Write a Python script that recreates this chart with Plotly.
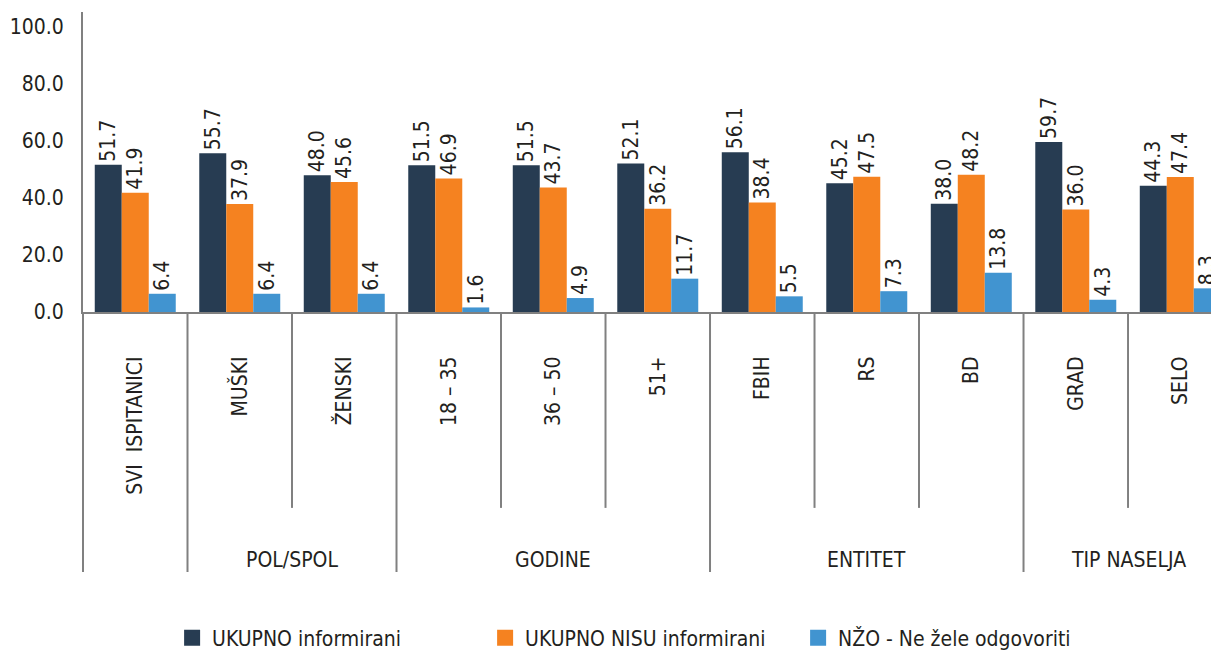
import plotly.graph_objects as go

categories = ["SVI  ISPITANICI", "MUŠKI", "ŽENSKI", "18 – 35", "36 – 50", "51+",
              "FBIH", "RS", "BD", "GRAD", "SELO"]
informirani = [51.7, 55.7, 48.0, 51.5, 51.5, 52.1, 56.1, 45.2, 38.0, 59.7, 44.3]
nisu_informirani = [41.9, 37.9, 45.6, 46.9, 43.7, 36.2, 38.4, 47.5, 48.2, 36.0, 47.4]
nzo = [6.4, 6.4, 6.4, 1.6, 4.9, 11.7, 5.5, 7.3, 13.8, 4.3, 8.3]
series_names = ["UKUPNO informirani", "UKUPNO NISU informirani", "NŽO - Ne žele odgovoriti"]
colors = ["#273c52", "#f58220", "#4194d0"]

groups = [("POL/SPOL", 1, 2), ("GODINE", 3, 5), ("ENTITET", 6, 8), ("TIP NASELJA", 9, 10)]
ytick_vals = [0, 20, 40, 60, 80, 100]

FONT = "Liberation Sans Narrow, DejaVu Sans Condensed, Roboto, sans-serif"
TXT = "#231f20"
LINE = "#808080"

fig = go.Figure()
x_idx = list(range(len(categories)))
for name, vals, col in zip(series_names, [informirani, nisu_informirani, nzo], colors):
    fig.add_trace(go.Bar(
        x=x_idx, y=vals, name=name, marker=dict(color=col, line=dict(width=0)),
        text=[f"{v:.1f}" for v in vals], textposition="outside", textangle=-90,
        textfont=dict(family=FONT, size=21, color=TXT), constraintext="none",
        cliponaxis=False, showlegend=False,
    ))
    fig.add_trace(go.Scatter(
        x=[None], y=[None], mode="markers", name=name,
        marker=dict(symbol="square", size=20, color=col),
    ))

shapes = []
shapes.append(dict(type="line", xref="paper", yref="paper", x0=0, x1=0, y0=-0.867, y1=0,
                   line=dict(color=LINE, width=2)))
major = [0.5, 2.5, 5.5, 8.5]
minor = [1.5, 3.5, 4.5, 6.5, 7.5, 9.5]
for xv in major:
    shapes.append(dict(type="line", xref="x", yref="paper", x0=xv, x1=xv, y0=-0.867, y1=0,
                       line=dict(color=LINE, width=2)))
for xv in minor:
    shapes.append(dict(type="line", xref="x", yref="paper", x0=xv, x1=xv, y0=-0.653, y1=0,
                       line=dict(color=LINE, width=2)))

annotations = []
for label, a, b in groups:
    annotations.append(dict(text=label, x=(a + b) / 2, xref="x", y=-0.827, yref="paper",
                            showarrow=False, xanchor="center", yanchor="middle",
                            font=dict(family=FONT, size=21, color=TXT)))

fig.update_layout(
    width=1211, height=652,
    margin=dict(l=83, r=0, t=12, b=340, autoexpand=False),
    plot_bgcolor="white", paper_bgcolor="white",
    barmode="group", bargap=0.225, bargroupgap=0,
    shapes=shapes, annotations=annotations,
    xaxis=dict(range=[-0.5, 10.294], tickmode="array", tickvals=x_idx, ticktext=categories,
               tickangle=-90, showline=True, linecolor=LINE, linewidth=2, ticks="",
               ticklabelstandoff=34, showgrid=False, zeroline=False, automargin=False,
               tickfont=dict(family=FONT, size=21, color=TXT)),
    yaxis=dict(range=[0, 105.3], tickvals=ytick_vals, tickformat=".1f", showline=True,
               linecolor=LINE, linewidth=2, showgrid=False, zeroline=False, ticks="",
               ticklabelstandoff=13, automargin=False,
               tickfont=dict(family=FONT, size=21, color=TXT)),
    legend=dict(orientation="h", x=0.079, xanchor="left", y=-1.087, yanchor="middle",
                font=dict(family=FONT, size=21, color=TXT),
                entrywidth=268, entrywidthmode="pixels"),
)

fig.write_html("out.html", config={"displayModeBar": False},
               post_script="document.body.style.margin='0px';")
